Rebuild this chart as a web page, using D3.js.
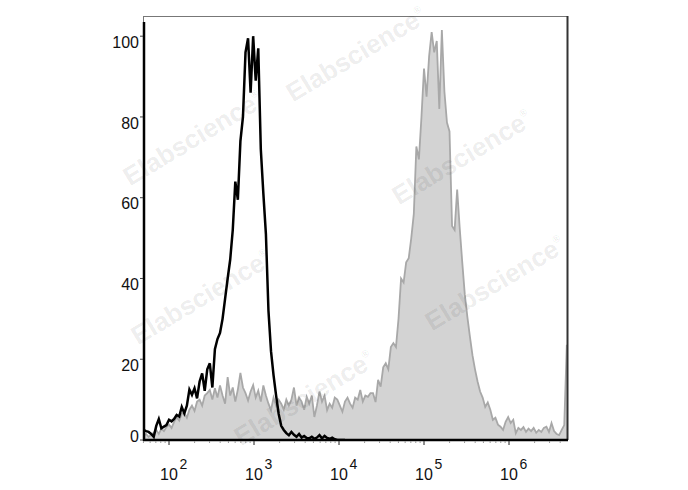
<!DOCTYPE html>
<html><head><meta charset="utf-8">
<script src="https://cdn.jsdelivr.net/npm/d3@7"></script>
<style>body{margin:0;background:#fff} svg{display:block}</style>
</head><body>
<script>
// ---- data ----
const binStartLog = 1.70;   // log10 of first bin centre
const binStepLog = 0.03;    // bin width in decades
const greyCounts = [
 1,1.5,0.8,1.2,1.8,2.5,1.5,2.8,2.2,3.2,
 3.8,3,4.5,5.7,4.8,6.5,6.7,5.5,7.5,8.5,
 7.2,9.5,10,8.5,11,11.6,12.4,10,12.8,10.5,
 13.5,11,9,15.6,11,13,9.5,12.5,16.6,13,
 11.6,9.8,12,13.6,10.5,12.2,9.5,13.5,11,9,
 7.4,10.5,8.5,10,9,7.5,10,8.5,10,13,
 8.5,10.5,9.5,7.5,10.7,9,11,5.7,8.5,12,
 9.5,11,7.4,9,8,10.5,10,8.5,7,9.5,
 10.5,9,8,10.5,10,12.4,9.5,11,10.7,11.6,
 11.6,9.4,14.9,13.2,18,19,17.5,23,24,23,
 30,40,39,44,45,50,56,72.7,69.5,80,
 92,85,95,101,96,98.8,82,101.5,86.3,78.6,
 76.4,53,52,62,52.5,44,36,30.5,25.6,21,
 17.5,14.5,12,10.5,8.2,9.3,7.5,5,5.5,3.8,
 3.3,2.5,4.5,5.7,4.2,5,1.7,3,2.5,3.2,
 2,2.8,2.2,3,1.8,2.5,2,3,3.3,2,
 4.2,2.2,1.5,1.2,2.5,3.7,23.6
];
const blackCounts = [
 2.5,2.2,2,1.5,0.8,3.5,5.2,2.9,3.3,3.7,
 5,4.6,5.2,6.2,5.8,8.2,6.6,8.5,12.5,11.2,
 12.8,10.3,14.5,16.5,12.2,17.5,19,13,22.5,25,
 26.5,30,35,40,44.7,52,64,59.5,74,80,
 96,99.5,86,100,89,97,72,61,51,32,
 22,16,11,6.5,3.5,2.5,1.7,1.2,2,1.3,
 0.8,1.5,0.6,1,0.5,0.4,0.8,0.3,0.6,1.2,
 0.4,1,0.5,0.3,0.6,0.2,0,0,0,0
];
const xTickExponents = [2,3,4,5,6];
const yTickValues = [0,20,40,60,80,100];
const watermark = "Elabscience";

// ---- layout ----
const W = 688, H = 490;
const L = 143, R = 568, T = 16, B = 440;
const svg = d3.select("body").append("svg").attr("width", W).attr("height", H);

const x = d3.scaleLog().domain([Math.pow(10, 1.694), Math.pow(10, 6.694)]).range([L, R]);
const y = d3.scaleLinear().domain([0, 105]).range([B, T]);

const binX = i => Math.pow(10, binStartLog + binStepLog * i);

svg.append("defs").append("clipPath").attr("id", "plot")
  .append("rect").attr("x", L).attr("y", T).attr("width", R - L).attr("height", B - T);

const g = svg.append("g").attr("clip-path", "url(#plot)");

const greyData = greyCounts.map((v, i) => [binX(i), v]);
const blackData = blackCounts.map((v, i) => [binX(i), v]);

g.append("path").datum(greyData)
  .attr("d", d3.area().x(d => x(d[0])).y0(y(0)).y1(d => y(d[1])))
  .attr("fill", "#d3d3d3");
g.append("path").datum(greyData)
  .attr("d", d3.line().x(d => x(d[0])).y(d => y(d[1])))
  .attr("fill", "none").attr("stroke", "#a8a8a8").attr("stroke-width", 1.8)
  .attr("stroke-linejoin", "miter");

g.append("path").datum(blackData)
  .attr("d", d3.line().x(d => x(d[0])).y(d => y(d[1])))
  .attr("fill", "none").attr("stroke", "#000").attr("stroke-width", 2.5)
  .attr("stroke-linejoin", "miter");

// frame
svg.append("line").attr("x1", L).attr("x2", R).attr("y1", T + 0.5).attr("y2", T + 0.5)
  .attr("stroke", "#777").attr("stroke-width", 1);
svg.append("line").attr("x1", L + 0.5).attr("x2", L + 0.5).attr("y1", T).attr("y2", B)
  .attr("stroke", "#777").attr("stroke-width", 1);
svg.append("line").attr("x1", R - 0.5).attr("x2", R - 0.5).attr("y1", T).attr("y2", B)
  .attr("stroke", "#333").attr("stroke-width", 2);
// thick y axis line
svg.append("line").attr("x1", L + 1).attr("x2", L + 1).attr("y1", y(103.5)).attr("y2", B + 1)
  .attr("stroke", "#000").attr("stroke-width", 2.5);
// thick x axis line
svg.append("line").attr("x1", L).attr("x2", R).attr("y1", B).attr("y2", B)
  .attr("stroke", "#000").attr("stroke-width", 2.5);

// x ticks
const minor = [];
for (let e = 1; e <= 6; e++) for (let m = 2; m <= 9; m++) {
  const v = m * Math.pow(10, e);
  if (v >= x.domain()[0] && v <= x.domain()[1]) minor.push(v);
}
svg.append("g").selectAll("line").data(minor).join("line")
  .attr("x1", d => x(d)).attr("x2", d => x(d)).attr("y1", B + 1).attr("y2", B + 3)
  .attr("stroke", "#999").attr("stroke-width", 1);
svg.append("g").selectAll("line").data(xTickExponents).join("line")
  .attr("x1", d => x(Math.pow(10, d))).attr("x2", d => x(Math.pow(10, d)))
  .attr("y1", B + 1).attr("y2", B + 5).attr("stroke", "#444").attr("stroke-width", 1.2);

const font = "'Liberation Sans', Arial, Helvetica, sans-serif";
const xl = svg.append("g").attr("font-family", font).attr("fill", "#111");
xTickExponents.forEach(e => {
  const px = x(Math.pow(10, e));
  xl.append("text").attr("x", px).attr("y", 480).attr("text-anchor", "middle")
    .attr("font-size", 16).text("10");
  xl.append("text").attr("x", px + 10.5).attr("y", 469).attr("text-anchor", "start")
    .attr("font-size", 14).text(String(e));
});

// y ticks
svg.append("g").selectAll("line").data(yTickValues).join("line")
  .attr("x1", L - 3).attr("x2", L).attr("y1", d => y(d)).attr("y2", d => y(d))
  .attr("stroke", "#444").attr("stroke-width", 1);
svg.append("g").attr("font-family", font).attr("fill", "#111")
  .selectAll("text").data(yTickValues).join("text")
  .attr("x", 139).attr("y", d => y(d) + (d === 0 ? -4 : 6))
  .attr("dy", "0.35em").attr("text-anchor", "end").attr("font-size", 16)
  .text(d => d);

// watermarks
const wmPos = [[356,54],[193,138],[462,157],[201,297],[495,283],[304,398]];
const wm = svg.append("g").attr("font-family", font).attr("fill", "rgba(0,0,0,0.085)");
wmPos.forEach(([cx, cy]) => {
  const t = wm.append("text").attr("transform", `translate(${cx},${cy}) rotate(-31)`)
    .attr("text-anchor", "middle").attr("dy", "0.35em")
    .attr("font-size", 26).attr("font-weight", "bold");
  t.append("tspan").text(watermark);
  t.append("tspan").attr("font-size", 10).attr("dy", -12).text("®");
});
</script>
</body></html>
